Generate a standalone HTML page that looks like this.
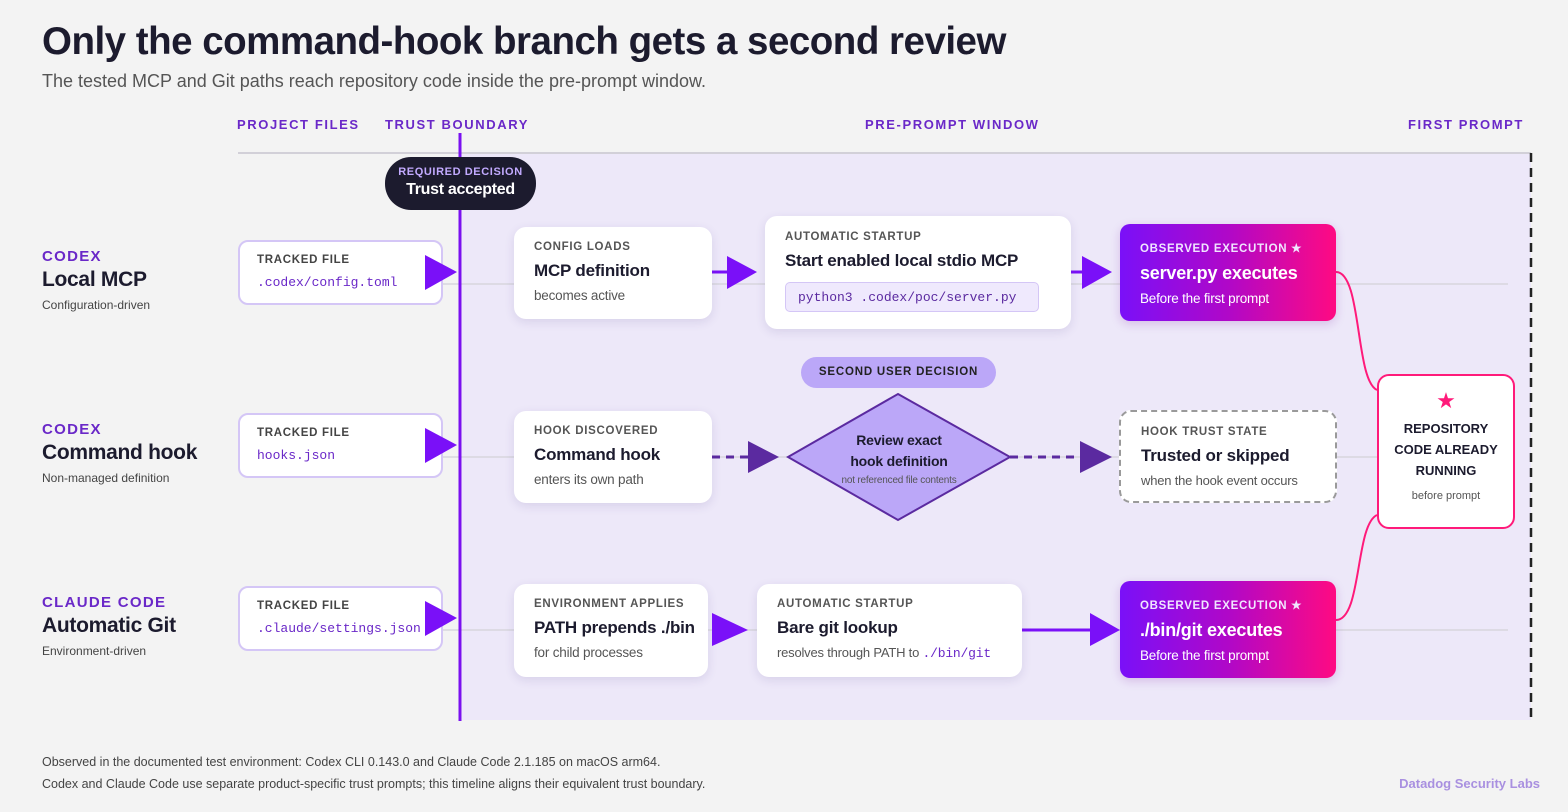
<!DOCTYPE html>
<html><head><meta charset="utf-8"><style>
*{margin:0;padding:0;box-sizing:border-box}
body{width:1568px;height:812px;background:#f3f3f3;font-family:"Liberation Sans",sans-serif;position:relative;overflow:hidden;color:#1c1b2e}
.a{position:absolute}
.hd{position:absolute;top:117px;font-size:13px;font-weight:bold;letter-spacing:1.6px;color:#6a28c8}
.card{position:absolute;background:#fff;border-radius:12px;box-shadow:0 3px 10px rgba(60,40,120,.12);padding:0 20px;white-space:nowrap}
.k{font-size:11.5px;font-weight:bold;letter-spacing:0.7px;color:#555;white-space:nowrap}
.t{font-size:17px;font-weight:bold;color:#1c1b2e;white-space:nowrap;letter-spacing:-0.2px}
.s{font-size:13.5px;color:#555;white-space:nowrap;letter-spacing:-0.2px}
.mono{font-family:"Liberation Mono",monospace}
.tf{position:absolute;left:238px;width:205px;height:65px;background:#fff;border:2px solid #d4c6f6;border-radius:10px;padding:12px 17px}
.tf .k{font-size:11.5px;color:#444}
.tf .m{font-family:"Liberation Mono",monospace;font-size:13px;color:#6a28c8;margin-top:9px;white-space:nowrap}
.lab{position:absolute;left:42px}
.lab .c{font-size:15px;font-weight:bold;letter-spacing:1.3px;color:#6a28c8}
.lab .n{font-size:21px;font-weight:bold;margin-top:3px;letter-spacing:-0.3px}
.lab .d{font-size:12px;color:#444;margin-top:6px}
.ex{position:absolute;left:1120px;width:216px;border-radius:10px;background:linear-gradient(90deg,#7a10f8 0%,#b008c8 50%,#ff0a82 100%);color:#fff;padding:0 20px;box-shadow:0 3px 10px rgba(120,20,160,.2)}
.ex .k{color:#f0e6ff}
.ex .t{color:#fff;font-size:18px}
.ex .s{color:#fff}
</style></head><body>
<div class="a" style="left:42px;top:20px;font-size:38.5px;font-weight:bold;letter-spacing:-0.5px">Only the command-hook branch gets a second review</div>
<div class="a" style="left:42px;top:71px;font-size:18px;color:#555">The tested MCP and Git paths reach repository code inside the pre-prompt window.</div>
<div class="hd" style="left:237px">PROJECT FILES</div>
<div class="hd" style="left:385px">TRUST BOUNDARY</div>
<div class="hd" style="left:865px">PRE-PROMPT WINDOW</div>
<div class="hd" style="left:1408px">FIRST PROMPT</div>
<div class="a" style="left:462px;top:153px;width:1069px;height:567px;background:#ede8f9"></div>
<div class="a" style="left:238px;top:152px;width:1293px;height:2px;background:#d2d0d8"></div>
<svg class="a" style="left:0;top:0" width="1568" height="812">
<g stroke="#d8d6de" stroke-width="1.5"><line x1="440" y1="284" x2="1508" y2="284"/><line x1="440" y1="457" x2="1508" y2="457"/><line x1="440" y1="630" x2="1508" y2="630"/></g>
<line x1="1531" y1="153" x2="1531" y2="720" stroke="#222" stroke-width="2.5" stroke-dasharray="9,6"/>
<line x1="460" y1="133" x2="460" y2="721" stroke="#7a10f0" stroke-width="3"/>
<g stroke="#7a10f8" stroke-width="3"><line x1="712" y1="272" x2="730" y2="272"/><line x1="1071" y1="272" x2="1085" y2="272"/><line x1="1022" y1="630" x2="1093" y2="630"/></g>
<g stroke="#5b2aa0" stroke-width="3" stroke-dasharray="8,6"><line x1="712" y1="457" x2="750" y2="457"/><line x1="1010" y1="457" x2="1082" y2="457"/></g>
<g fill="none" stroke="#ff1a7a" stroke-width="2"><path d="M1336,272 C1362,272 1355,380 1377,390"/><path d="M1336,620 C1362,620 1355,525 1377,515"/></g>
<polygon points="898,394 1010,457 898,520 788,457" fill="#bba7f8" stroke="#5b2aa0" stroke-width="2"/>
</svg>
<div class="a" style="left:385px;top:157px;width:151px;height:53px;background:#1c1b2e;border-radius:26px;text-align:center;padding-top:9px"><div style="font-size:11px;font-weight:bold;letter-spacing:0.6px;color:#c2aaff">REQUIRED DECISION</div><div style="font-size:16px;font-weight:bold;color:#fff;margin-top:3px;letter-spacing:-0.3px">Trust accepted</div></div>
<div class="lab" style="top:248px"><div class="c">CODEX</div><div class="n">Local MCP</div><div class="d">Configuration-driven</div></div>
<div class="lab" style="top:421px"><div class="c">CODEX</div><div class="n">Command hook</div><div class="d">Non-managed definition</div></div>
<div class="lab" style="top:594px"><div class="c">CLAUDE CODE</div><div class="n">Automatic Git</div><div class="d">Environment-driven</div></div>
<div class="tf" style="top:240px"><div class="k">TRACKED FILE</div><div class="m">.codex/config.toml</div></div>
<div class="tf" style="top:413px"><div class="k">TRACKED FILE</div><div class="m">hooks.json</div></div>
<div class="tf" style="top:586px"><div class="k">TRACKED FILE</div><div class="m">.claude/settings.json</div></div>
<div class="card" style="left:514px;top:227px;width:198px;height:92px;padding-top:14px"><div class="k">CONFIG LOADS</div><div class="t" style="margin-top:8px">MCP definition</div><div class="s" style="margin-top:7px">becomes active</div></div>
<div class="card" style="left:765px;top:216px;width:306px;height:113px;padding-top:15px"><div class="k">AUTOMATIC STARTUP</div><div class="t" style="margin-top:8px">Start enabled local stdio MCP</div><div class="mono" style="margin-top:11px;width:254px;height:30px;background:#efe9fd;border:1px solid #d4c6f6;border-radius:5px;font-size:13px;color:#5b2aa0;padding:7px 0 0 12px">python3 .codex/poc/server.py</div></div>
<div class="ex" style="top:224px;height:97px;padding-top:17px"><div class="k">OBSERVED EXECUTION ★</div><div class="t" style="margin-top:8px">server.py executes</div><div class="s" style="margin-top:7px">Before the first prompt</div></div>
<div class="a" style="left:801px;top:357px;width:195px;height:31px;background:#bba7f8;border-radius:16px;text-align:center;font-size:11.5px;font-weight:bold;letter-spacing:0.8px;padding-top:9px;color:#222">SECOND USER DECISION</div>
<div class="card" style="left:514px;top:411px;width:198px;height:92px;padding-top:14px"><div class="k">HOOK DISCOVERED</div><div class="t" style="margin-top:8px">Command hook</div><div class="s" style="margin-top:7px">enters its own path</div></div>
<div class="a" style="left:788px;top:430px;width:222px;text-align:center"><div style="font-size:14px;font-weight:bold;line-height:21px;letter-spacing:-0.2px">Review exact<br>hook definition</div><div style="font-size:10px;color:#555;margin-top:3px;letter-spacing:-0.2px">not referenced file contents</div></div>
<div class="card" style="left:1119px;top:410px;width:218px;height:93px;padding-top:14px;border:2px dashed #9a9a9a;box-shadow:none"><div class="k">HOOK TRUST STATE</div><div class="t" style="margin-top:8px">Trusted or skipped</div><div class="s" style="margin-top:7px;font-size:13px">when the hook event occurs</div></div>
<div class="a" style="left:1377px;top:374px;width:138px;height:155px;background:#fff;border:2px solid #ff1a7a;border-radius:12px;text-align:center;padding-top:12px"><div style="color:#ff1a7a;font-size:22px">★</div><div style="font-size:13px;font-weight:bold;line-height:21px;margin-top:4px">REPOSITORY<br>CODE ALREADY<br>RUNNING</div><div style="font-size:11px;color:#555;margin-top:9px">before prompt</div></div>
<div class="card" style="left:514px;top:584px;width:194px;height:93px;padding-top:14px"><div class="k">ENVIRONMENT APPLIES</div><div class="t" style="margin-top:8px">PATH prepends ./bin</div><div class="s" style="margin-top:7px">for child processes</div></div>
<div class="card" style="left:757px;top:584px;width:265px;height:93px;padding-top:14px"><div class="k">AUTOMATIC STARTUP</div><div class="t" style="margin-top:8px">Bare git lookup</div><div class="s" style="margin-top:7px;font-size:13px">resolves through PATH to <span class="mono" style="color:#6a28c8">./bin/git</span></div></div>
<div class="ex" style="top:581px;height:97px;padding-top:17px"><div class="k">OBSERVED EXECUTION ★</div><div class="t" style="margin-top:8px">./bin/git executes</div><div class="s" style="margin-top:7px">Before the first prompt</div></div>
<svg class="a" style="left:0;top:0" width="1568" height="812">
<g fill="#7a10f8"><polygon points="425,255 425,290 457,272"/><polygon points="425,428 425,463 457,445"/><polygon points="425,601 425,636 457,618"/>
<polygon points="727,256 727,289 757,272"/><polygon points="1082,256 1082,289 1112,272"/><polygon points="712,613 712,646 748,630"/><polygon points="1090,613 1090,646 1120,630"/></g>
<g fill="#5b2aa0"><polygon points="748,441 748,473 779,457"/><polygon points="1080,441 1080,473 1112,457"/></g>
</svg>
<div class="a" style="left:42px;top:755px;font-size:12.5px;color:#444">Observed in the documented test environment: Codex CLI 0.143.0 and Claude Code 2.1.185 on macOS arm64.</div>
<div class="a" style="left:42px;top:777px;font-size:12.5px;color:#444">Codex and Claude Code use separate product-specific trust prompts; this timeline aligns their equivalent trust boundary.</div>
<div class="a" style="right:28px;top:776px;font-size:13px;font-weight:bold;color:#a990e0">Datadog Security Labs</div>
</body></html>
